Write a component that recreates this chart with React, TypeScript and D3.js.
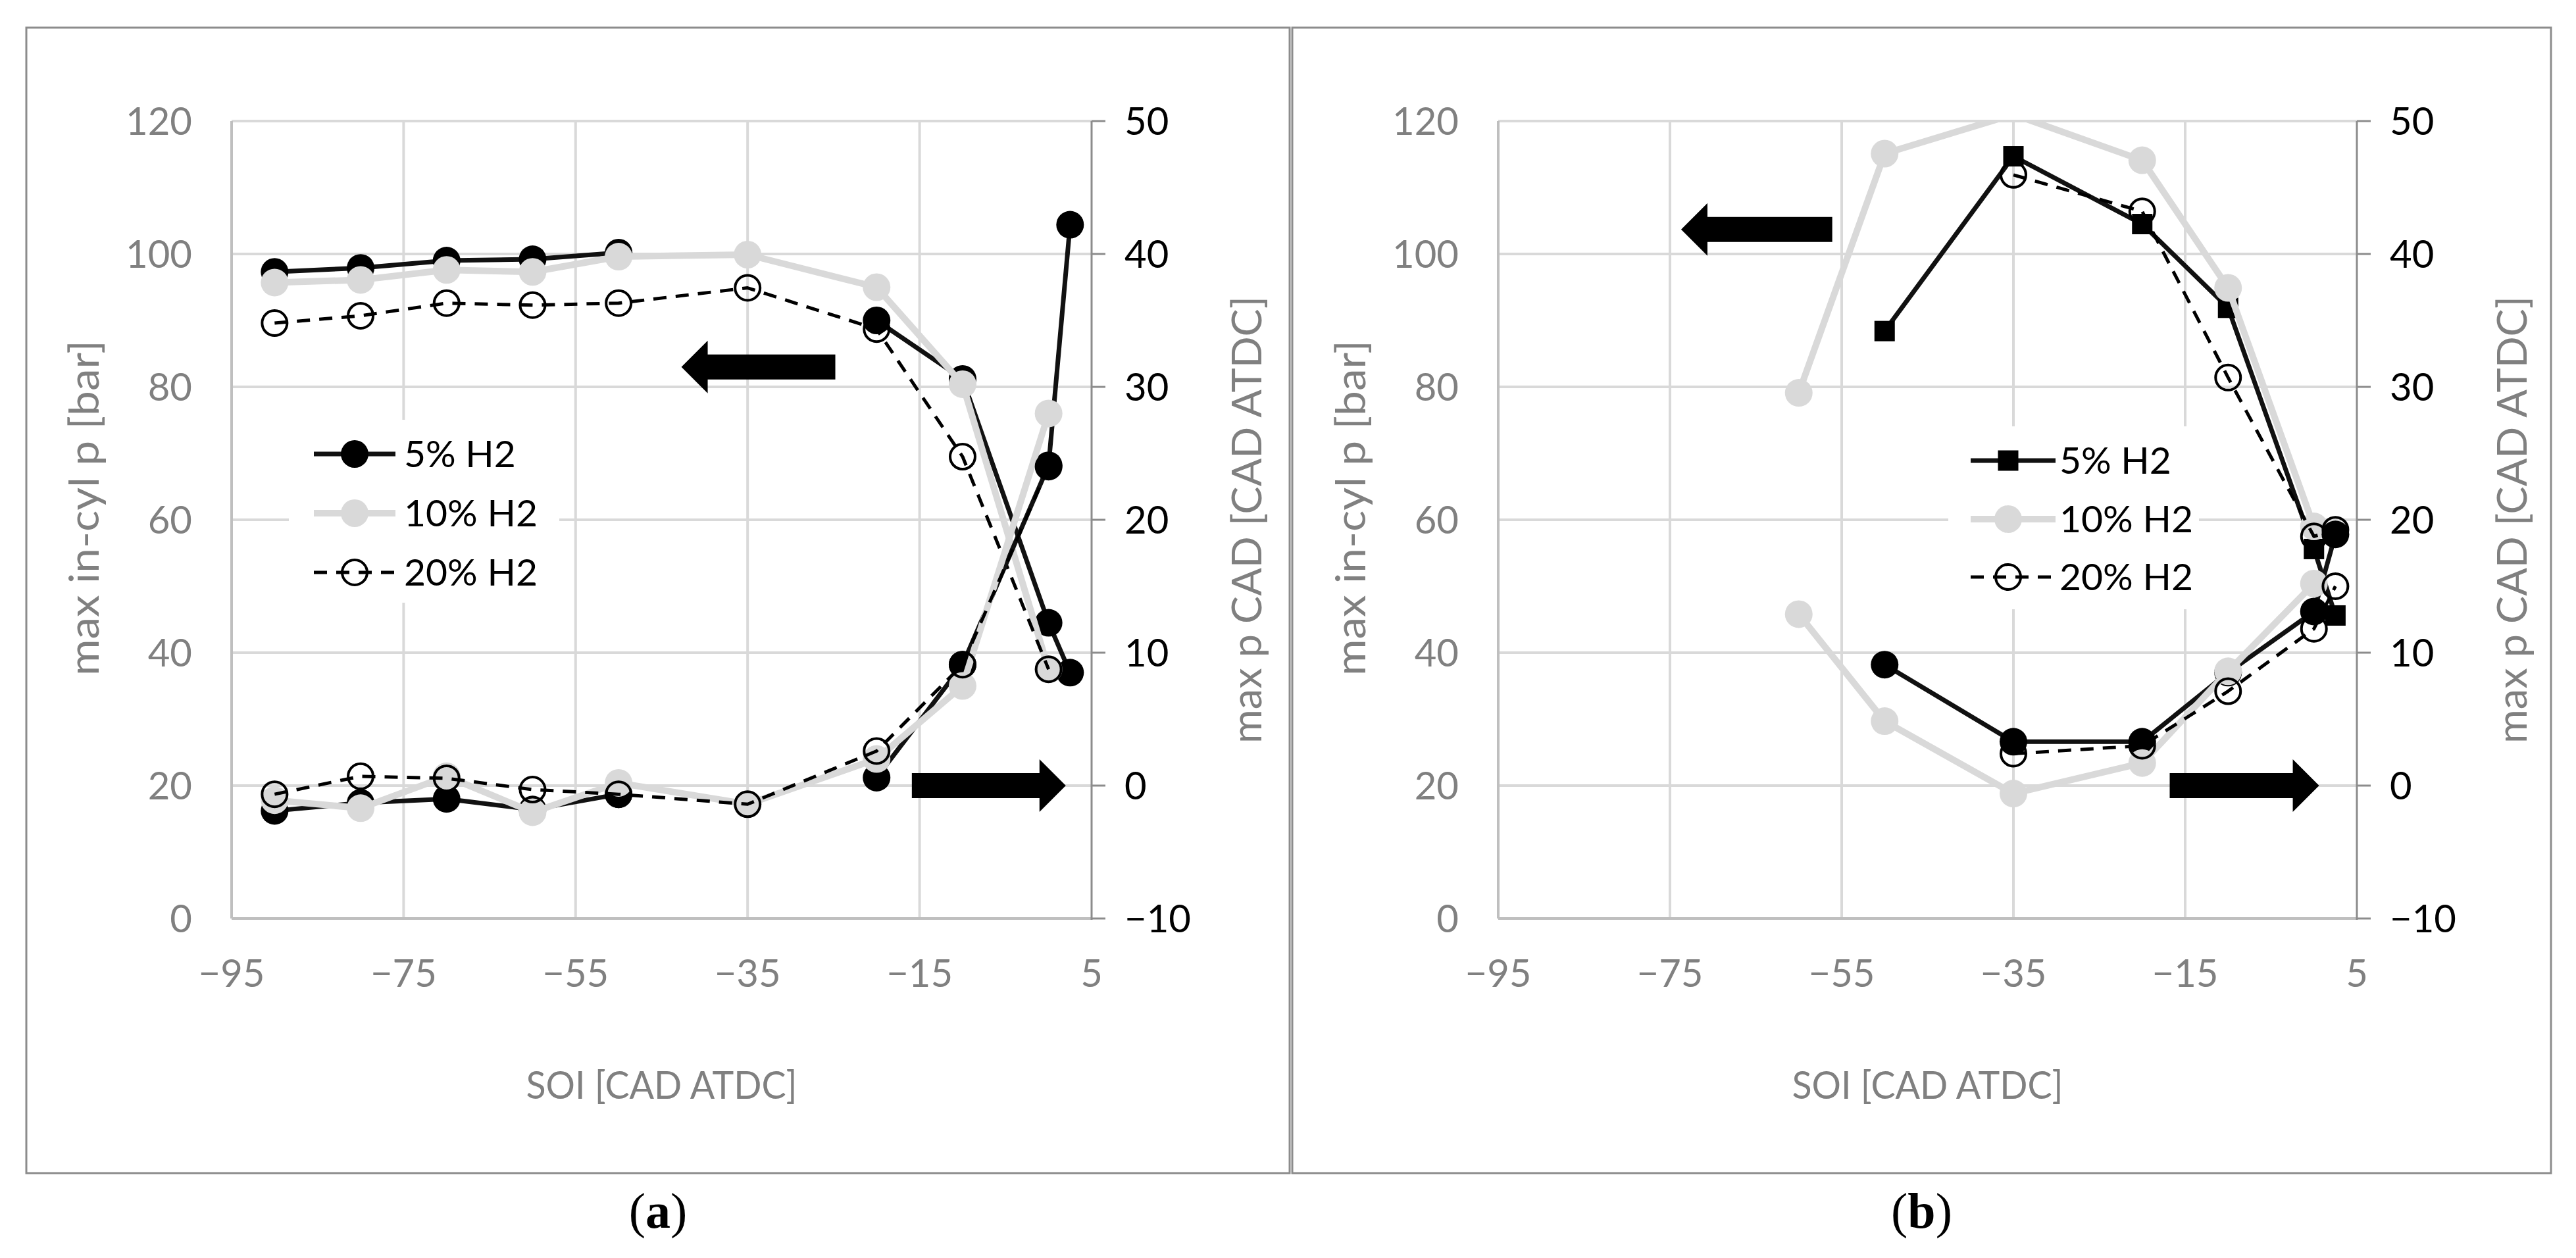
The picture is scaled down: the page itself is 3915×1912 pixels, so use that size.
import React from 'react';
import * as d3 from 'd3';

// SOI sweep points [CAD ATDC]
const soiA = [-90, -80, -70, -60, -50, -35, -20, -10, 0, 2.5];
const soiB = [-60, -50, -35, -20, -10, 0, 2.5];

// (a) max in-cylinder pressure [bar]
const pA5 = [97.3, 97.9, 99.0, 99.2, 100.2, null, 90.0, 81.2, 44.5, 37.0];
const pA10 = [95.7, 96.1, 97.6, 97.3, 99.6, 99.9, 95.0, 80.4, 37.5, null];
const pA20 = [89.6, 90.7, 92.6, 92.3, 92.6, 94.9, 88.7, 69.5, 37.5, null];
// (a) crank angle of max pressure [CAD ATDC]
const cA5 = [-1.9, -1.3, -1.0, -1.8, -0.65, null, 0.6, 9.1, 24.1, 42.2];
const cA10 = [-1.1, -1.7, 0.7, -2.0, 0.2, -1.4, 2.0, 7.5, 28.0, null];
const cA20 = [-0.65, 0.7, 0.55, -0.3, -0.65, -1.4, 2.6, 9.1, 24.0, null];

// (b)
const pB5 = [null, 88.4, 114.7, 104.5, 91.9, 55.6, 45.6];
const pB10 = [79.1, 115.1, 121.0, 114.1, 94.9, 59.0, null];
const pB20 = [null, null, 111.9, 106.4, 81.4, 57.5, 58.5];
const cB5 = [null, 9.1, 3.3, 3.3, 8.5, 13.1, 18.9];
const cB10 = [12.9, 4.85, -0.6, 1.7, 8.6, 15.2, null];
const cB20 = [null, null, 2.4, 3.0, 7.1, 11.8, 15.0];

const seriesNames = ['5% H2', '10% H2', '20% H2'];
const xTicks = [-95, -75, -55, -35, -15, 5];
const leftTicks = [0, 20, 40, 60, 80, 100, 120];
const rightTicks = [-10, 0, 10, 20, 30, 40, 50];

// arrows pointing to the axis each curve group belongs to
const arrowsA = [
  { from: -24.8, to: -42.7, value: 83.0, axis: 'left' },
  { from: -15.9, to: 2.0, value: 0, axis: 'right' },
];
const arrowsB = [
  { from: -56.1, to: -73.7, value: 103.7, axis: 'left' },
  { from: -16.8, to: 0.6, value: 0, axis: 'right' },
];

const W = 3915;
const H = 1912;
const TOP = 184;
const BOTTOM = 1396;
const FONT = "Lato, 'Open Sans', sans-serif";
const GREY = '#808080';
const GRID = '#d9d9d9';

const styles: Record<string, any> = {
  '5% H2': { stroke: '#111', width: 7, fill: '#000' },
  '10% H2': { stroke: '#d9d9d9', width: 10, fill: '#d9d9d9' },
  '20% H2': { stroke: '#000', width: 5, dash: '20 14', fill: 'none' },
};

function Marker({ cx, cy, name, square }: any) {
  const st = styles[name];
  if (square) {
    return <rect x={cx - 15.5} y={cy - 15.5} width={31} height={31} fill="#000" />;
  }
  if (st.fill === 'none') {
    return <circle cx={cx} cy={cy} r={19} fill="none" stroke="#000" strokeWidth={4} />;
  }
  return <circle cx={cx} cy={cy} r={21} fill={st.fill} />;
}

function Panel({ id, left, right, frameX0, frameX1, label, soi, pmax, cad, arrows, legend, squareUpper }: any) {
  const x = d3.scaleLinear().domain([-95, 5]).range([left, right]);
  const yL = d3.scaleLinear().domain([0, 120]).range([BOTTOM, TOP]);
  const yR = d3.scaleLinear().domain([-10, 50]).range([BOTTOM, TOP]);
  const fmt = d3.format('');

  const line = (vals: (number | null)[], y: any) =>
    d3
      .line<number>()
      .defined((_, i) => vals[i] != null)
      .x((d) => x(d))
      .y((_, i) => y(vals[i] as number))(soi) || '';

  const groups = [
    ...seriesNames.map((n, k) => ({ name: n, vals: pmax[k], y: yL, square: squareUpper && k === 0 })),
    ...seriesNames.map((n, k) => ({ name: n, vals: cad[k], y: yR, square: false })),
  ];

  const arrowPath = (a: any) => {
    const y = a.axis === 'left' ? yL(a.value) : yR(a.value);
    const x0 = x(a.from);
    const x1 = x(a.to);
    const dir = Math.sign(x1 - x0);
    const hb = x1 - dir * 40;
    return `M${x0},${y - 19}L${hb},${y - 19}L${hb},${y - 40}L${x1},${y}L${hb},${y + 40}L${hb},${y + 19}L${x0},${y + 19}Z`;
  };

  const clipId = `clip-${id}`;

  return (
    <g>
      <rect x={frameX0} y={42} width={frameX1 - frameX0} height={1741} fill="#fff" stroke="#8c8c8c" strokeWidth={3} />
      <defs>
        <clipPath id={clipId}>
          <rect x={left} y={TOP} width={right - left} height={BOTTOM - TOP} />
        </clipPath>
      </defs>

      {/* gridlines */}
      {leftTicks.map((t) => (
        <line key={'h' + t} x1={left} x2={right} y1={yL(t)} y2={yL(t)} stroke={GRID} strokeWidth={4} />
      ))}
      {xTicks.slice(1, -1).map((t) => (
        <line key={'v' + t} x1={x(t)} x2={x(t)} y1={TOP} y2={BOTTOM} stroke={GRID} strokeWidth={4} />
      ))}
      {/* axes */}
      <line x1={left} x2={left} y1={TOP} y2={BOTTOM} stroke="#bfbfbf" strokeWidth={4} />
      <line x1={left} x2={right} y1={BOTTOM} y2={BOTTOM} stroke="#bfbfbf" strokeWidth={4} />
      <line x1={right} x2={right} y1={TOP} y2={BOTTOM + 2} stroke="#8c8c8c" strokeWidth={3} />
      {rightTicks.map((t) => (
        <line key={'rt' + t} x1={right} x2={right + 21} y1={yR(t)} y2={yR(t)} stroke="#8c8c8c" strokeWidth={3} />
      ))}

      {/* tick labels */}
      <g fontFamily={FONT} fontSize={58}>
        {leftTicks.map((t) => (
          <text key={'lt' + t} x={left - 60} y={yL(t) + 21} textAnchor="end" fill={GREY}>
            {fmt(t)}
          </text>
        ))}
        {rightTicks.map((t) => (
          <text key={'rl' + t} x={right + 50} y={yR(t) + 21} textAnchor="start" fill="#000">
            {fmt(t)}
          </text>
        ))}
        {xTicks.map((t) => (
          <text key={'xt' + t} x={x(t)} y={BOTTOM + 104} textAnchor="middle" fill={GREY}>
            {fmt(t)}
          </text>
        ))}
      </g>

      {/* axis titles */}
      <g fontFamily={FONT} fill={GREY}>
        <text
          x={(left + right) / 2}
          y={1670}
          textAnchor="middle"
          fontSize={58}
          textLength={412}
          lengthAdjust="spacingAndGlyphs"
        >
          SOI [CAD ATDC]
        </text>
        <text
          transform={`translate(${left - 226},772) rotate(-90)`}
          textAnchor="middle"
          dominantBaseline="central"
          fontSize={62}
          textLength={510}
          lengthAdjust="spacingAndGlyphs"
        >
          max in-cyl p [bar]
        </text>
        <text
          transform={`translate(${right + 234},790) rotate(-90)`}
          textAnchor="middle"
          dominantBaseline="central"
          fontSize={62}
          textLength={680}
          lengthAdjust="spacingAndGlyphs"
        >
          max p CAD [CAD ATDC]
        </text>
      </g>

      {/* series */}
      {groups.map((g, gi) => {
        const st = styles[g.name];
        return (
          <g key={gi}>
            <path
              d={line(g.vals, g.y)}
              fill="none"
              stroke={st.stroke}
              strokeWidth={st.width}
              strokeDasharray={st.dash}
              strokeLinejoin="round"
              clipPath={`url(#${clipId})`}
            />
            {soi.map((s: number, i: number) => {
              const v = g.vals[i];
              const dom = g.y.domain();
              if (v == null || v < dom[0] || v > dom[1]) return null;
              return <Marker key={i} cx={x(s)} cy={g.y(v)} name={g.name} square={g.square} />;
            })}
          </g>
        );
      })}

      {/* arrows */}
      {arrows.map((a: any, i: number) => (
        <path key={'ar' + i} d={arrowPath(a)} fill="#000" />
      ))}

      {/* legend */}
      <rect x={legend.box[0]} y={legend.box[1]} width={legend.box[2] - legend.box[0]} height={legend.box[3] - legend.box[1]} fill="#fff" />
      {seriesNames.map((n, i) => {
        const st = styles[n];
        const ry = legend.rows[i];
        return (
          <g key={'lg' + n}>
            <line
              x1={legend.line[0]}
              x2={legend.line[1]}
              y1={ry}
              y2={ry}
              stroke={st.stroke}
              strokeWidth={st.width}
              strokeDasharray={st.dash}
            />
            <Marker cx={legend.marker} cy={ry} name={n} square={squareUpper && i === 0} />
            <text x={legend.text} y={ry + 20} fontFamily={FONT} fontSize={57} fill="#000">
              {n}
            </text>
          </g>
        );
      })}

      <text
        x={(frameX0 + frameX1) / 2}
        y={1866}
        textAnchor="middle"
        fontFamily="'Liberation Serif', serif"
        fontSize={76}
        fill="#000"
      >
        (<tspan fontWeight="bold">{label}</tspan>)
      </text>
    </g>
  );
}

export default function App() {
  return (
    <svg
      width={W}
      height={H}
      viewBox={`0 0 ${W} ${H}`}
      style={{ position: 'absolute', left: 0, top: 0, background: '#fff' }}
    >
      <rect width={W} height={H} fill="#fff" />
      <Panel
        id="a"
        left={352}
        right={1659}
        frameX0={40}
        frameX1={1960}
        label="a"
        soi={soiA}
        pmax={[pA5, pA10, pA20]}
        cad={[cA5, cA10, cA20]}
        arrows={arrowsA}
        squareUpper={false}
        legend={{ box: [439, 638, 850, 916], rows: [690, 780, 870], line: [477, 601], marker: 539, text: 614 }}
      />
      <Panel
        id="b"
        left={2277}
        right={3582}
        frameX0={1964}
        frameX1={3877}
        label="b"
        soi={soiB}
        pmax={[pB5, pB10, pB20]}
        cad={[cB5, cB10, cB20]}
        arrows={arrowsB}
        squareUpper={true}
        legend={{ box: [2961, 648, 3342, 926], rows: [700, 789, 877], line: [2995, 3124], marker: 3052, text: 3130 }}
      />
    </svg>
  );
}
